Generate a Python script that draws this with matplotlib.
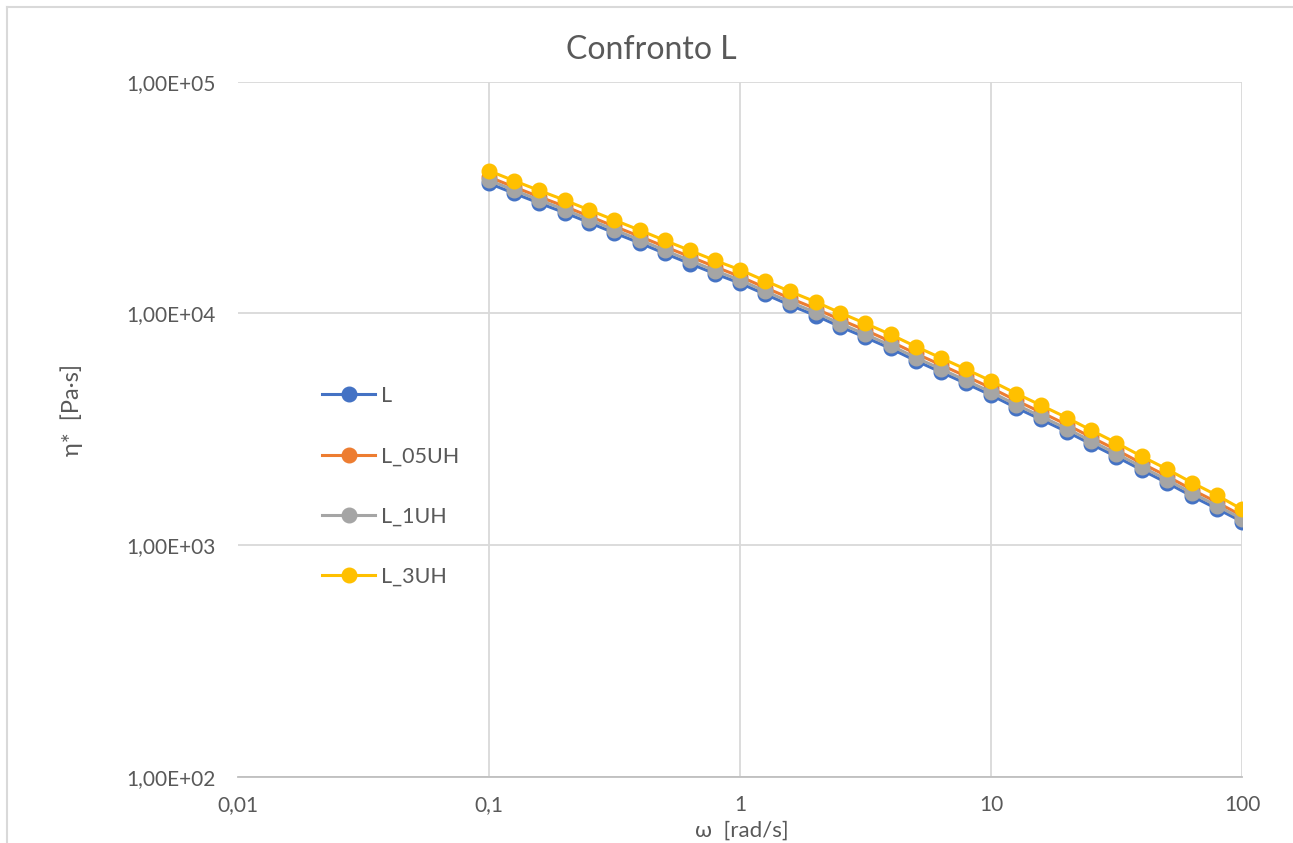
import matplotlib
matplotlib.use("Agg")
import matplotlib.pyplot as plt

plt.rcParams['font.family'] = ['Lato', 'DejaVu Sans']

omega = [0.1, 0.126, 0.158, 0.2, 0.251, 0.316, 0.398, 0.501, 0.631, 0.794,
         1, 1.26, 1.58, 2, 2.51, 3.16, 3.98, 5.01, 6.31, 7.94,
         10, 12.6, 15.8, 20, 25.1, 31.6, 39.8, 50.1, 63.1, 79.4, 100]

eta_L = [36430, 32980, 29980, 27230, 24660, 22260, 20160, 18170, 16420, 14850,
         13510, 12100, 10870, 9797, 8763, 7887, 7062, 6259, 5590, 4990,
         4443, 3919, 3492, 3093, 2730, 2409, 2113, 1862, 1630, 1438, 1265]
eta_L_05UH = [38790, 35120, 31930, 29000, 26250, 23760, 21520, 19430, 17590, 15920,
              14430, 12930, 11640, 10490, 9406, 8466, 7572, 6719, 6001, 5362,
              4774, 4212, 3749, 3317, 2924, 2578, 2258, 1990, 1739, 1533, 1340]
eta_L_1UH = [37560, 34000, 30910, 28070, 25420, 22950, 20780, 18730, 16930, 15310,
             13930, 12470, 11210, 10100, 9034, 8131, 7280, 6453, 5763, 5144,
             4580, 4040, 3600, 3189, 2814, 2484, 2178, 1920, 1680, 1482, 1300]
eta_L_3UH = [41270, 37360, 33970, 30850, 27930, 25280, 22890, 20670, 18710, 16940,
             15430, 13830, 12450, 11220, 10060, 9055, 8116, 7202, 6432, 5747,
             5117, 4514, 4018, 3555, 3134, 2763, 2420, 2133, 1864, 1643, 1429]

series_names = ["L", "L_05UH", "L_1UH", "L_3UH"]
series_colors = ["#4472C4", "#ED7D31", "#A5A5A5", "#FFC000"]

x_ticks = [0.01, 0.1, 1, 10, 100]
x_tick_labels = ["0,01", "0,1", "1", "10", "100"]
y_ticks = [1e2, 1e3, 1e4, 1e5]
y_tick_labels = ["1,00E+02", "1,00E+03", "1,00E+04", "1,00E+05"]

title = "Confronto L"
x_label = "ω  [rad/s]"
y_label = "η*  [Pa·s]"

W, H = 1293, 843
fig = plt.figure(figsize=(W / 100, H / 100), dpi=100)
ax = fig.add_axes([238 / W, 1 - 777 / H, (1242 - 238) / W, (777 - 81.7) / H])

text_color = "#595959"
grid_color = "#D9D9D9"

for vals, name, col in zip([eta_L, eta_L_05UH, eta_L_1UH, eta_L_3UH], series_names, series_colors):
    ax.plot(omega, vals, color=col, lw=2.2, marker="o", markersize=10.5,
            markerfacecolor=col, markeredgecolor=col, label=name, zorder=3)

ax.set_xscale("log")
ax.set_yscale("log")
ax.set_xlim(0.01, 100)
ax.set_ylim(100, 100000)
ax.set_xticks(x_ticks)
ax.set_xticklabels(x_tick_labels)
ax.set_yticks(y_ticks)
ax.set_yticklabels(y_tick_labels)
ax.minorticks_off()
ax.tick_params(axis="both", length=0, labelsize=15, colors=text_color)
ax.tick_params(axis="x", pad=13)
ax.tick_params(axis="y", pad=16)

ax.grid(True, which="major", color=grid_color, lw=1.3, zorder=0)
ax.set_axisbelow(True)
# hide the vertical gridline at the left edge (0.01)
xgl = ax.get_xgridlines()
if xgl:
    xgl[0].set_visible(False)

for s in ["left", "right", "top"]:
    ax.spines[s].set_visible(False)
ax.spines["bottom"].set_color("#BFBFBF")
ax.spines["bottom"].set_linewidth(1.3)

fig.text(651 / W, 1 - 50 / H, title, ha="center", va="center", fontsize=23, color=text_color)
fig.text(742 / W, 1 - 831 / H, x_label, ha="center", va="center", fontsize=16, color=text_color)
fig.text(72 / W, 1 - 410 / H, y_label, ha="center", va="center", rotation=90, fontsize=17, color=text_color)

leg = ax.legend(loc="upper left", bbox_to_anchor=((322 - 238) / 1004, 1 - (386 - 81.7) / 695.3),
                frameon=False, fontsize=15.5, borderaxespad=0, borderpad=0,
                handlelength=2.47, handletextpad=0.25, labelspacing=1.87)
for t in leg.get_texts():
    t.set_color(text_color)

# outer chart border (top and left visible)
fig.add_artist(plt.Line2D([7 / W, 7 / W], [1 - 7 / H, 0], transform=fig.transFigure, color="#D9D9D9", lw=1.5))
fig.add_artist(plt.Line2D([7 / W, 1], [1 - 7 / H, 1 - 7 / H], transform=fig.transFigure, color="#D9D9D9", lw=1.5))

fig.savefig("out.png", dpi=100, facecolor="white")
